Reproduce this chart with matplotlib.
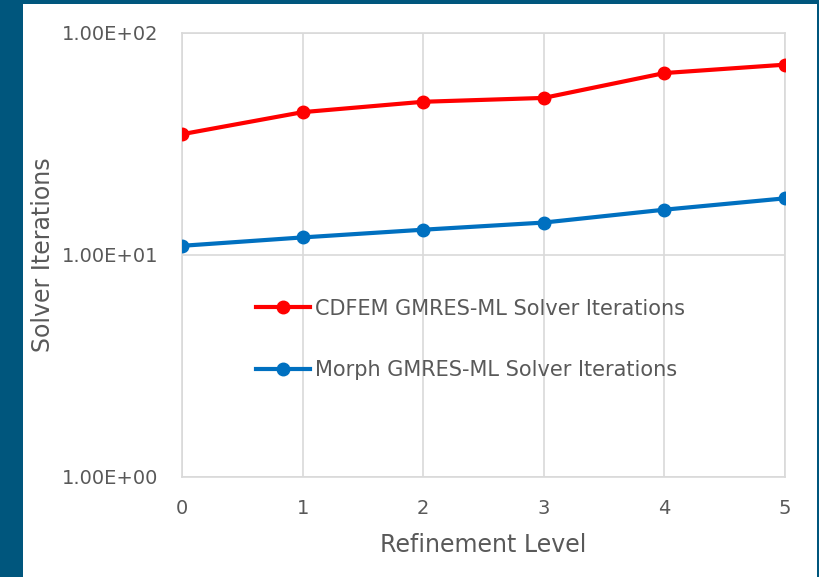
import matplotlib.pyplot as plt
from matplotlib.patches import Rectangle
from matplotlib.ticker import FixedLocator, FixedFormatter, NullLocator

# refinement levels and solver iteration counts
levels = [0, 1, 2, 3, 4, 5]
cdfem_iters = [35, 44, 49, 51, 66, 72]
morph_iters = [11, 12, 13, 14, 16, 18]

y_ticks = [1, 10, 100]
y_tick_labels = ['1.00E+00', '1.00E+01', '1.00E+02']

text_gray = '#595959'
grid_gray = '#d9d9d9'

fig = plt.figure(figsize=(8.2, 5.77), dpi=100, facecolor='#00567d')
# white slide panel inside the dark border
panel = Rectangle((23 / 820, 0), (817 - 23) / 820, 573 / 577,
                  transform=fig.transFigure, facecolor='white',
                  edgecolor='none', zorder=-5)
fig.add_artist(panel)

ax = fig.add_axes([182 / 820, 100 / 577, 603 / 820, 444 / 577])
ax.set_facecolor('none')
ax.set_zorder(2)

ax.plot(levels, cdfem_iters, color='#ff0000', linewidth=3, marker='o',
        markersize=9, label='CDFEM GMRES-ML Solver Iterations', zorder=3)
ax.plot(levels, morph_iters, color='#0070c0', linewidth=3, marker='o',
        markersize=9, label='Morph GMRES-ML Solver Iterations', zorder=3)

ax.set_yscale('log')
ax.set_ylim(1, 100)
ax.set_xlim(0, 5)
ax.yaxis.set_major_locator(FixedLocator(y_ticks))
ax.yaxis.set_major_formatter(FixedFormatter(y_tick_labels))
ax.yaxis.set_minor_locator(NullLocator())
ax.set_xticks(levels)

ax.grid(True, color=grid_gray, linewidth=1.2)
for side in ax.spines.values():
    side.set_color(grid_gray)
    side.set_linewidth(1.2)
ax.tick_params(length=0, labelsize=14, colors=text_gray)
ax.tick_params(axis='x', pad=16)
ax.tick_params(axis='y', pad=17)

ax.set_xlabel('Refinement Level', fontsize=17, color=text_gray, labelpad=11)
ax.set_ylabel('Solver Iterations', fontsize=17, color=text_gray)
ax.yaxis.set_label_coords(-0.211, 0.5)

ax.legend(loc='center left', bbox_to_anchor=(0.123, 0.31), frameon=False,
          fontsize=15, labelcolor=text_gray, handlelength=2.6,
          handletextpad=0.2, labelspacing=2.0, borderpad=0,
          borderaxespad=0)

fig.savefig('out.png', dpi=100, facecolor=fig.get_facecolor())
